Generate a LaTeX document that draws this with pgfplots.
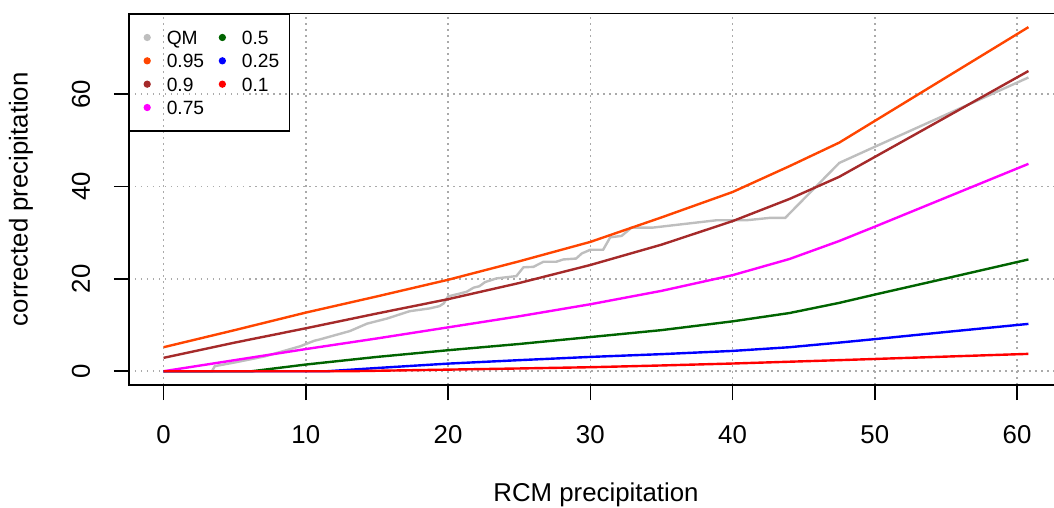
\documentclass[border=0pt]{standalone}
\usepackage{pgfplots}
\pgfplotsset{compat=1.18}
\usepackage{fontspec}
\setmainfont{Liberation Sans}
\definecolor{qmgrey}{RGB}{190,190,190}
\definecolor{orred}{RGB}{255,69,0}
\definecolor{rbrown}{RGB}{165,42,42}
\definecolor{rmagenta}{RGB}{255,0,255}
\definecolor{rgreen}{RGB}{0,100,0}
\definecolor{rblue}{RGB}{0,0,255}
\definecolor{rred}{RGB}{255,0,0}
\definecolor{gridgrey}{RGB}{170,170,170}
\begin{document}
\begin{tikzpicture}
\begin{axis}[
  name=ax, scale only axis, width=467pt, height=185.8pt,
  xmin=-2.43, xmax=63.23, ymin=-2.98, ymax=77.48,
  xtick={0,10,...,60}, ytick={0,20,40,60},
  xtick pos=left, ytick pos=left,
  tick align=outside, major tick length=7.6pt,
  axis line style={line width=0.75pt},
  major tick style={line width=0.75pt, black},
  grid=major,
  major grid style={gridgrey, line width=0.75pt, dash pattern=on 0.75pt off 2.25pt},
  /pgf/number format/assume math mode=true,
  tick label style={font=\fontsize{12.9}{15}\selectfont},
  xticklabel style={anchor=center, inner sep=0pt, yshift=-17.4pt},
  yticklabel style={anchor=center, inner sep=0pt, xshift=-16.4pt, rotate=90},
  label style={font=\fontsize{12.9}{15}\selectfont},
  xlabel={RCM precipitation}, ylabel={corrected precipitation},
  xlabel style={at={(axis description cs:0.5,-0.296)}, anchor=center},
  ylabel style={at={(axis description cs:-0.1156,0.5)}, anchor=center},
  legend columns=2, legend cell align=left,
  legend image code/.code={\path (-3.3pt,0pt) (1.5pt,0pt);
    \fill[#1] (0pt,0pt) circle (1.5pt);},
  legend style={at={(0,1)}, anchor=north west, draw=black, line width=0.6pt,
    fill=none, inner xsep=5.2pt, inner ysep=8.3pt, row sep=4.77pt,
    font=\fontsize{9.6}{11}\selectfont,
    nodes={inner sep=0pt, text height=6.9pt, text depth=0pt},
    /tikz/every odd column/.append style={column sep=8pt},
    /tikz/every even column/.append style={column sep=5.5pt}},
]
% QM (empirical)
\addplot[qmgrey, line width=1.2pt, forget plot] coordinates {
(0,0)(3.4,0)(3.6,1.1)(5,1.9)(7.1,3.2)(9.6,5.4)(10.6,6.6)(11.0,6.9)(13.1,8.7)
(14.3,10.3)(15.7,11.4)(17.3,13.0)(18.7,13.6)(19.4,14.1)(19.7,14.7)(20.0,16.2)
(20.8,16.8)(21.3,17.2)(21.8,18.1)(22.2,18.4)(22.6,19.3)(23.4,20.1)(24.8,20.6)
(25.3,22.5)(26.0,22.6)(26.7,23.7)(27.6,23.7)(28.1,24.2)(29.0,24.4)(29.4,25.5)
(30.0,26.3)(30.9,26.3)(31.4,29.0)(32.2,29.3)(32.9,31.1)(34.4,31.1)(38.9,32.7)
(41.0,32.7)(42.6,33.2)(43.7,33.2)(47.5,45.1)(50.0,48.6)(60.8,63.6)};
% 0.95
\addplot[orred, line width=1.2pt, forget plot] coordinates {
(0,5.2)(5,8.9)(10,12.7)(15,16.2)(20,19.8)(25,23.8)(30,28.0)(35,33.3)
(40,38.8)(44,44.4)(47.5,49.5)(50,54.2)(55,63.6)(60.8,74.5)};
% 0.9
\addplot[rbrown, line width=1.2pt, forget plot] coordinates {
(0,2.9)(5,6.2)(10,9.3)(15,12.5)(20,15.6)(25,19.1)(30,23.0)(35,27.4)
(40,32.5)(44,37.3)(47.5,42.1)(50,46.4)(55,55.0)(60.8,65.0)};
% 0.75
\addplot[rmagenta, line width=1.2pt, forget plot] coordinates {
(0,0)(5,2.4)(10,4.8)(15,7.1)(20,9.5)(25,11.9)(30,14.5)(35,17.4)
(40,20.8)(44,24.3)(47.5,28.2)(50,31.3)(55,37.6)(60.8,44.9)};
% 0.5
\addplot[rgreen, line width=1.2pt, forget plot] coordinates {
(0,0)(6.2,0)(10,1.45)(15,3.1)(20,4.55)(25,5.9)(30,7.4)(35,8.9)
(40,10.8)(44,12.6)(47.5,14.8)(50,16.6)(55,20.1)(60.8,24.2)};
% 0.25
\addplot[rblue, line width=1.2pt, forget plot] coordinates {
(0,0)(11.5,0)(15,0.7)(20,1.65)(25,2.4)(30,3.1)(35,3.7)(40,4.4)
(44,5.2)(47.5,6.2)(50,6.95)(55,8.5)(60.8,10.25)};
% 0.1
\addplot[rred, line width=1.2pt, forget plot] coordinates {
(0,0)(13,0)(20,0.35)(25,0.6)(30,0.87)(35,1.25)(40,1.67)(47.5,2.4)
(55,3.17)(60.8,3.76)};
\addlegendimage{qmgrey}\addlegendentry{QM}
\addlegendimage{rgreen}\addlegendentry{0.5}
\addlegendimage{orred}\addlegendentry{0.95}
\addlegendimage{rblue}\addlegendentry{0.25}
\addlegendimage{rbrown}\addlegendentry{0.9}
\addlegendimage{rred}\addlegendentry{0.1}
\addlegendimage{rmagenta}\addlegendentry{0.75}
\end{axis}
\pgfresetboundingbox
\useasboundingbox ([shift={(-64.5pt,-61.5pt)}]ax.south west)
  rectangle ([shift={(462.5pt,192.5pt)}]ax.south west);
\end{tikzpicture}
\end{document}
